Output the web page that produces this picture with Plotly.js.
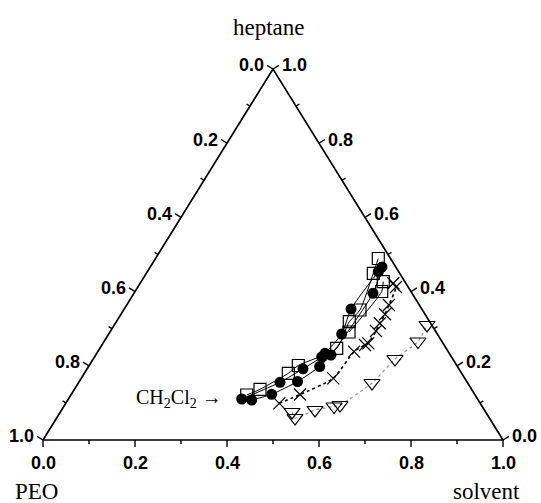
<!DOCTYPE html>
<html><head><meta charset="utf-8">
<script src="https://cdn.plot.ly/plotly-3.0.1.min.js"></script>
<style>html,body{margin:0;padding:0;background:#fff}</style>
</head><body><div id="chart" style="width:541px;height:503px"></div>
<script>
// Ternary compositions (fractions). PEO = 1 - heptane - solvent.
const circlesUpperHeptane = [0.1105, 0.1555, 0.1919, 0.2237, 0.2337, 0.2857, 0.3531, 0.4536];
const circlesUpperSolvent = [0.3767, 0.4374, 0.4692, 0.4940, 0.4962, 0.5064, 0.4931, 0.5021];
const circlesLowerHeptane = [0.1078, 0.1232, 0.1577, 0.1981, 0.2291, 0.3954, 0.4663];
const circlesLowerSolvent = [0.3998, 0.4356, 0.4745, 0.5024, 0.5115, 0.5197, 0.5038];
const squaresUpperHeptane = [0.1213, 0.1367, 0.1798, 0.2008, 0.2472, 0.3189, 0.3504, 0.4493, 0.4892];
const squaresUpperSolvent = [0.3822, 0.4034, 0.4434, 0.4546, 0.5149, 0.5064, 0.5139, 0.4934, 0.4843];
const squaresLowerHeptane = [0.2911, 0.4003, 0.4267];
const squaresLowerSolvent = [0.5197, 0.5362, 0.5264];
const crossesHeptane = [0.0989, 0.1226, 0.1663, 0.2380, 0.2561, 0.2606, 0.2938, 0.3146, 0.3390, 0.3640, 0.4124, 0.4224];
const crossesSolvent = [0.4642, 0.4974, 0.5479, 0.5571, 0.5720, 0.5769, 0.5770, 0.5750, 0.5740, 0.5700, 0.5612, 0.5503];
const trianglesHeptane = [0.0755, 0.0593, 0.0809, 0.0903, 0.0943, 0.1536, 0.2183, 0.2655, 0.3100];
const trianglesSolvent = [0.5036, 0.5182, 0.5509, 0.5875, 0.5985, 0.6384, 0.6560, 0.6825, 0.6798];

const tickValues = [0, 0.1, 0.2, 0.3, 0.4, 0.5, 0.6, 0.7, 0.8, 0.9, 1.0];
const majorTickValues = [0, 0.2, 0.4, 0.6, 0.8, 1.0];
const majorTickLabels = ['0.0', '0.2', '0.4', '0.6', '0.8', '1.0'];
const topTitle = 'heptane';
const leftTitle = 'PEO';
const rightTitle = 'solvent';
const seriesNote = 'CH<sub>2</sub>Cl<sub>2</sub> \u2192';

// ---- layout geometry ----
const PX = 460, PY = 371;           // pixels per unit in x and y
const X0 = -43 / PX, X1 = 498 / PX; // axis ranges (figure 541 wide)
const Y0 = -63 / PY, Y1 = 440 / PY; // (figure 503 tall)

function projX(h, s) { return h.map((hv, i) => s[i] + hv / 2); }

function unit(vx, vy) { const n = Math.hypot(vx, vy); return [vx / n, vy / n]; }
const leftN = unit(-1 * PY, -0.5 * PX);   // outward normal of left edge (pixel space, y down)
const rightN = unit(1 * PY, -0.5 * PX);   // outward normal of right edge
const bottomN = [0, 1];

const MAJ = 7, MIN = 4;
const tx = [], ty = [];
const annotations = [];
const tickFont = {family: 'Liberation Sans, Arial, sans-serif', size: 18, color: '#000', weight: 'bold'};

tickValues.forEach(v => {
  const isMajor = majorTickValues.some(m => Math.abs(m - v) < 1e-9);
  const L = isMajor ? MAJ : MIN;
  const bx = v, by = 0;
  tx.push(bx, bx + bottomN[0] * L / PX, null); ty.push(by, by - bottomN[1] * L / PY, null);
  const lx = (1 - v) / 2, ly = 1 - v;
  tx.push(lx, lx + leftN[0] * L / PX, null); ty.push(ly, ly - leftN[1] * L / PY, null);
  const rx = 1 - v / 2, ry = v;
  tx.push(rx, rx + rightN[0] * L / PX, null); ty.push(ry, ry - rightN[1] * L / PY, null);
});

majorTickValues.forEach((v, i) => {
  const t = majorTickLabels[i];
  annotations.push({x: v, y: 0, xref: 'x', yref: 'y', text: t, showarrow: false, font: tickFont,
    xanchor: 'center', yanchor: 'top', yshift: -11});
  annotations.push({x: (1 - v) / 2, y: 1 - v, xref: 'x', yref: 'y', text: t, showarrow: false, font: tickFont,
    xanchor: 'right', yanchor: 'middle', xshift: leftN[0] * MAJ - 1, yshift: -leftN[1] * MAJ});
  annotations.push({x: 1 - v / 2, y: v, xref: 'x', yref: 'y', text: t, showarrow: false, font: tickFont,
    xanchor: 'left', yanchor: 'middle', xshift: rightN[0] * MAJ + 1, yshift: -rightN[1] * MAJ});
});

const serif = {family: 'Liberation Serif, Times New Roman, serif', size: 23, color: '#000'};
annotations.push({x: 0.5, y: (503 - 27) / 503, xref: 'x', yref: 'paper', text: topTitle, showarrow: false, font: serif,
  xanchor: 'center', yanchor: 'middle', xshift: -4});
annotations.push({x: 13 / 541, y: (503 - 491) / 503, xref: 'paper', yref: 'paper', text: leftTitle, showarrow: false, font: serif,
  xanchor: 'left', yanchor: 'middle'});
annotations.push({x: 522 / 541, y: (503 - 491) / 503, xref: 'paper', yref: 'paper', text: rightTitle, showarrow: false, font: serif,
  xanchor: 'right', yanchor: 'middle'});

const cx = projX(circlesUpperHeptane, circlesUpperSolvent);
annotations.push({x: cx[0], y: circlesUpperHeptane[0], xref: 'x', yref: 'y', text: seriesNote, showarrow: false,
  font: {family: 'Liberation Serif, Times New Roman, serif', size: 20, color: '#000'},
  xanchor: 'right', yanchor: 'middle', xshift: -18, yshift: 1});

const corners = {h: [0, 1, 0, 0], s: [0, 0, 1, 0]};

const traces = [
  {x: projX(corners.h, corners.s), y: corners.h, mode: 'lines', line: {color: '#000', width: 1.7}, cliponaxis: false},
  {x: tx, y: ty, mode: 'lines', line: {color: '#000', width: 1.4}, cliponaxis: false},
  {x: projX(trianglesHeptane, trianglesSolvent), y: trianglesHeptane, mode: 'lines+markers',
    line: {color: '#999', width: 1.3, dash: 'dot', shape: 'spline', smoothing: 0.6},
    marker: {symbol: 'triangle-down-open', size: 14, color: '#000', line: {width: 1.2}}},
  {x: projX(crossesHeptane, crossesSolvent), y: crossesHeptane, mode: 'lines+markers',
    line: {color: '#000', width: 1.6, dash: 'dot', shape: 'spline', smoothing: 0.6},
    marker: {symbol: 'x-thin-open', size: 12, color: '#000', line: {width: 1.2, color: '#000'}}},
  {x: projX(squaresUpperHeptane, squaresUpperSolvent), y: squaresUpperHeptane, mode: 'lines+markers',
    line: {color: '#000', width: 1, shape: 'spline', smoothing: 0.6},
    marker: {symbol: 'square-open', size: 12, color: '#000', line: {width: 1.2}}},
  {x: projX(squaresLowerHeptane, squaresLowerSolvent), y: squaresLowerHeptane, mode: 'lines+markers',
    line: {color: '#000', width: 1, shape: 'spline', smoothing: 0.6},
    marker: {symbol: 'square-open', size: 12, color: '#000', line: {width: 1.2}}},
  {x: cx, y: circlesUpperHeptane, mode: 'lines+markers',
    line: {color: '#000', width: 1, shape: 'spline', smoothing: 0.6},
    marker: {symbol: 'circle', size: 11, color: '#000'}},
  {x: projX(circlesLowerHeptane, circlesLowerSolvent), y: circlesLowerHeptane, mode: 'lines+markers',
    line: {color: '#000', width: 1, shape: 'spline', smoothing: 0.6},
    marker: {symbol: 'circle', size: 11, color: '#000'}}
];

const layout = {
  width: 541, height: 503,
  margin: {l: 0, r: 0, t: 0, b: 0},
  paper_bgcolor: '#fff', plot_bgcolor: '#fff',
  showlegend: false, hovermode: false,
  xaxis: {range: [X0, X1], visible: false, fixedrange: true},
  yaxis: {range: [Y0, Y1], visible: false, fixedrange: true},
  annotations: annotations
};

Plotly.newPlot('chart', traces, layout, {displayModeBar: false, staticPlot: true});
</script>
</body></html>
